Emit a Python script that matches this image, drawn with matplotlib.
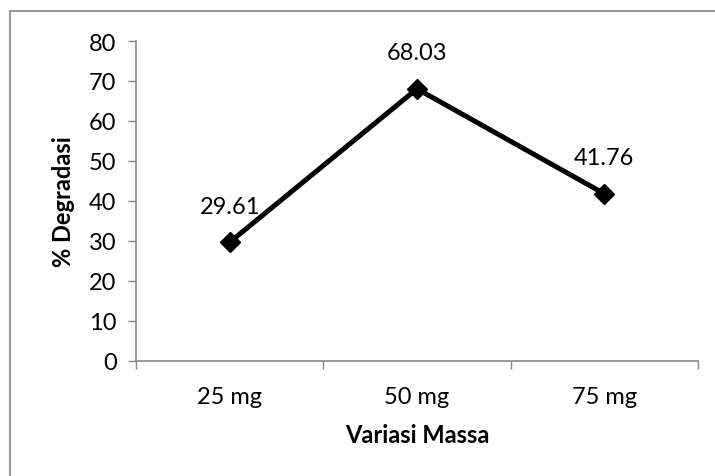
import matplotlib.pyplot as plt
from matplotlib.patches import Rectangle

# Degradation result for each catalyst mass
massa = ['25 mg', '50 mg', '75 mg']
degradasi = [29.61, 68.03, 41.76]

plt.rcParams['font.family'] = ['Lato', 'DejaVu Sans']

axis_grey = '#868686'
fs = 17

fig = plt.figure(figsize=(7.15, 4.77), dpi=100)
ax = fig.add_axes([0.1902, 0.2421, 0.7860, 0.6698])

x = list(range(len(massa)))
ax.plot(x, degradasi, color='black', linewidth=3.6, marker='D',
        markersize=10, markeredgewidth=1, zorder=3)

for xi, val in zip(x, degradasi):
    ax.annotate(f'{val:.2f}', (xi, val), xytext=(0, 26), textcoords='offset points',
                ha='center', va='center', fontsize=fs)

ax.set_ylim(0, 80)
ax.set_yticks(range(0, 81, 10))
ax.set_xlim(-0.5, len(massa) - 0.5)

# tick marks sit between categories, labels in the middle
ax.set_xticks([i - 0.5 for i in range(len(massa) + 1)])
ax.set_xticklabels([])
ax.set_xticks(x, minor=True)
ax.set_xticklabels(massa, minor=True)
ax.tick_params(axis='x', which='major', length=6, width=1, color=axis_grey)
ax.tick_params(axis='x', which='minor', length=0, pad=18, labelsize=fs)
ax.tick_params(axis='y', length=6, width=1, color=axis_grey, pad=8, labelsize=fs)

for side in ['top', 'right']:
    ax.spines[side].set_visible(False)
for side in ['left', 'bottom']:
    ax.spines[side].set_color(axis_grey)
    ax.spines[side].set_linewidth(1.2)

ax.set_xlabel('Variasi Massa', fontsize=fs, fontweight='bold', labelpad=12)
ax.set_ylabel('% Degradasi', fontsize=fs, fontweight='bold', labelpad=10)

# chart border
fig.patches.append(Rectangle((10 / 715, -0.2), 1.2, 1 - 12 / 477 + 0.2,
                             transform=fig.transFigure, fill=False,
                             edgecolor='#8c8c8c', linewidth=1.3))

fig.savefig('out.png', dpi=100)
